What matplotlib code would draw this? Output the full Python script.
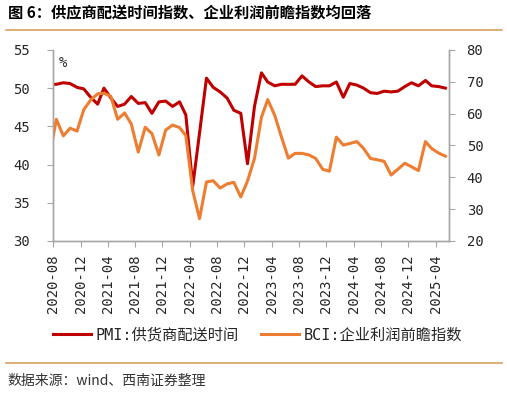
import matplotlib.pyplot as plt
import matplotlib.dates as mdates
from matplotlib.lines import Line2D
import pandas as pd

plt.rcParams['font.family'] = ['DejaVu Sans Mono', 'Noto Sans CJK SC']

# monthly data, 2020-07 .. 2025-05 (first month is clipped by the axis)
months = pd.date_range('2020-07-01', '2025-05-01', freq='MS')

pmi_delivery = [
    50.5, 50.5, 50.7, 50.6, 50.1, 49.9,
    48.8, 47.9, 50.0, 48.7, 47.6, 47.9, 48.9, 48.0, 48.1, 46.7, 48.2, 48.3,
    47.6, 48.2, 46.5, 37.2, 44.1, 51.3, 50.1, 49.5, 48.7, 47.1, 46.7, 40.1,
    47.6, 52.0, 50.8, 50.3, 50.5, 50.5, 50.5, 51.6, 50.8, 50.2, 50.3, 50.3,
    50.8, 48.8, 50.6, 50.4, 50.0, 49.4, 49.3, 49.6, 49.5, 49.6, 50.2, 50.7,
    50.3, 51.0, 50.3, 50.2, 50.0,
]
bci_profit = [
    46.6, 58.2, 53.0, 55.4, 54.5, 61.2,
    64.3, 66.2, 66.4, 65.4, 58.2, 60.2, 56.7, 47.9, 55.7, 53.7, 47.0, 54.8,
    56.4, 55.6, 53.1, 35.7, 27.0, 38.5, 38.9, 36.6, 37.9, 38.4, 33.8, 38.8,
    45.9, 58.8, 64.4, 59.5, 52.7, 46.0, 47.5, 47.5, 47.0, 45.9, 42.5, 41.9,
    52.6, 50.1, 50.6, 51.2, 49.1, 45.9, 45.5, 45.0, 40.7, 42.5, 44.4, 43.3,
    42.1, 51.2, 49.0, 47.6, 46.6,
]

tick_months = pd.date_range('2020-08-01', '2025-04-01', freq='4MS')

red = '#C00000'
orange = '#ED7D31'
grey = '#A6A6A6'
txt = '#262626'
gold = '#D8A25E'

fig = plt.figure(figsize=(5.07, 3.93), dpi=100)
ax = fig.add_axes([0.105, 0.387, 0.781, 0.486])
ax2 = ax.twinx()

x = months + pd.Timedelta(days=14)
l1, = ax.plot(x, pmi_delivery, color=red, lw=2.2, label='PMI:供货商配送时间')
l2, = ax2.plot(x, bci_profit, color=orange, lw=2.2, label='BCI:企业利润前瞻指数')

ax.set_xlim(pd.Timestamp('2020-08-01'), pd.Timestamp('2025-06-01'))
ax.set_xticks(tick_months)
ax.xaxis.set_major_formatter(mdates.DateFormatter('%Y-%m'))
ax.set_ylim(30, 55)
ax.set_yticks(range(30, 56, 5))
ax2.set_ylim(20, 80)
ax2.set_yticks(range(20, 81, 10))

for a in (ax, ax2):
    a.spines['top'].set_visible(False)
    for s in ('left', 'right', 'bottom'):
        a.spines[s].set_color(grey)
        a.spines[s].set_linewidth(1)

ax.tick_params(axis='x', length=4, color=grey, pad=6, labelsize=10,
               labelcolor=txt, labelrotation=90)
ax.tick_params(axis='y', length=4, color=grey, pad=13, labelsize=10,
               labelcolor=txt)
ax2.tick_params(axis='y', length=4, color=grey, pad=8.5, labelsize=10,
                labelcolor=txt)

ax.text(0.024, 0.93, '%', transform=ax.transAxes, ha='center', va='center',
        fontsize=10, color=txt)

fig.legend(handles=[l1, l2], loc='center', bbox_to_anchor=(0.508, 0.148),
           ncol=2, frameon=False, fontsize=11, handlelength=2.5,
           handletextpad=0.3, columnspacing=1.4, labelcolor=txt)

fig.text(8 / 507, 1 - 13 / 393, '图 6：供应商配送时间指数、企业利润前瞻指数均回落',
         fontsize=11, fontweight='bold', family=['Noto Sans CJK SC'],
         ha='left', va='center', color='black')
fig.add_artist(Line2D([6 / 507, 502 / 507], [1 - 29.5 / 393] * 2,
                      color=gold, lw=1.2))
fig.add_artist(Line2D([6 / 507, 502 / 507], [1 - 363 / 393] * 2,
                      color=gold, lw=1.2))
fig.text(7 / 507, 1 - 381 / 393, '数据来源：wind、西南证券整理',
         fontsize=10, family=['Noto Sans CJK SC'], ha='left', va='center',
         color='#333333')

fig.savefig('out.png', dpi=100)
